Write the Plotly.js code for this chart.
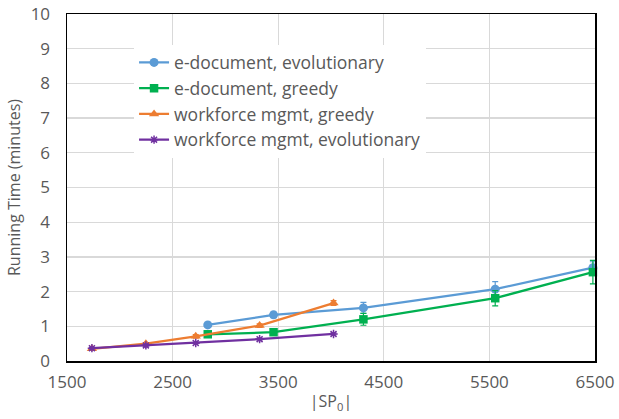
<!DOCTYPE html>
<html>
<head>
<meta charset="utf-8">
<script src="https://cdn.plot.ly/plotly-3.0.1.min.js"></script>
<style>html,body{margin:0;padding:0;background:#fff}#chart{width:619px;height:419px}</style>
</head>
<body>
<div id="chart"></div>
<script>
const seriesNames = ["e-document, evolutionary", "e-document, greedy", "workforce mgmt, greedy", "workforce mgmt, evolutionary"];
const edocX = [2833, 3456, 4307, 5555, 6480];
const edocEvoY = [1.04, 1.33, 1.53, 2.07, 2.69];
const edocEvoErr = [0.05, 0.08, 0.16, 0.22, 0.17];
const edocGreedyY = [0.77, 0.83, 1.2, 1.81, 2.56];
const edocGreedyErr = [0.04, 0.05, 0.17, 0.22, 0.34];
const wfX = [1736, 2247, 2719, 3324, 4024];
const wfGreedyY = [0.35, 0.5, 0.71, 1.02, 1.67];
const wfGreedyErr = [0.03, 0.03, 0.05, 0.05, 0.07];
const wfEvoY = [0.37, 0.45, 0.52, 0.63, 0.78];
const wfEvoErr = [0.02, 0.02, 0.02, 0.02, 0.03];
const xTicks = [1500, 2500, 3500, 4500, 5500, 6500];
const yTicks = [0,1,2,3,4,5,6,7,8,9,10];

const colors = ["#5B9BD5", "#00B050", "#ED7D31", "#7030A0"];
function tr(name, x, y, err, color, symbol, size, mline) {
  return {
    type: "scatter", mode: "lines+markers", name: name, x: x, y: y,
    line: {color: color, width: 2.25},
    marker: {color: color, symbol: symbol, size: size, line: {color: color, width: mline}},
    error_y: {type: "data", array: err, visible: true, color: color, thickness: 1.2, width: 3},
    cliponaxis: false
  };
}
const data = [
  tr(seriesNames[0], edocX, edocEvoY, edocEvoErr, colors[0], "circle", 9, 0),
  tr(seriesNames[1], edocX, edocGreedyY, edocGreedyErr, colors[1], "square", 8.5, 0),
  tr(seriesNames[2], wfX, wfGreedyY, wfGreedyErr, colors[2], "triangle-up", 9, 0),
  tr(seriesNames[3], wfX, wfEvoY, wfEvoErr, colors[3], "asterisk-open", 7, 1.5)
];
const fam = "'Open Sans', Lato, sans-serif";
const tickFont = {family: fam, size: 17, color: "#595959"};
const titleFont = {family: fam, size: 16, color: "#595959"};
const layout = {
  width: 619, height: 419,
  margin: {l: 67, r: 23.5, t: 13.5, b: 58},
  paper_bgcolor: "#fff", plot_bgcolor: "#fff",
  font: titleFont,
  showlegend: true,
  legend: {x: 0.127, y: 0.912, xanchor: "left", yanchor: "top", bgcolor: "rgba(255,255,255,1)",
           font: {family: fam, size: 17.5, color: "#595959"}, tracegroupgap: 0, itemwidth: 30},
  xaxis: {
    range: [1500, 6500], tickvals: xTicks, ticktext: xTicks.map(String),
    showgrid: true, gridcolor: "#D9D9D9", gridwidth: 1.3,
    showline: true, linecolor: "#000", linewidth: 1.5, mirror: true,
    ticks: "", zeroline: false, tickfont: tickFont, ticklabelstandoff: 5,
    title: {text: "|SP<sub>0</sub>|", font: titleFont, standoff: 4}
  },
  yaxis: {
    range: [0, 10], tickvals: yTicks,
    showgrid: true, gridcolor: "#D9D9D9", gridwidth: 1.3,
    showline: true, linecolor: "#000", linewidth: 1.5, mirror: true,
    ticks: "", zeroline: false, tickfont: tickFont, ticklabelstandoff: 12,
    title: {text: "Running Time (minutes)", font: titleFont, standoff: 6}
  }
};
Plotly.newPlot("chart", data, layout, {displayModeBar: false, staticPlot: true});
</script>
</body>
</html>
